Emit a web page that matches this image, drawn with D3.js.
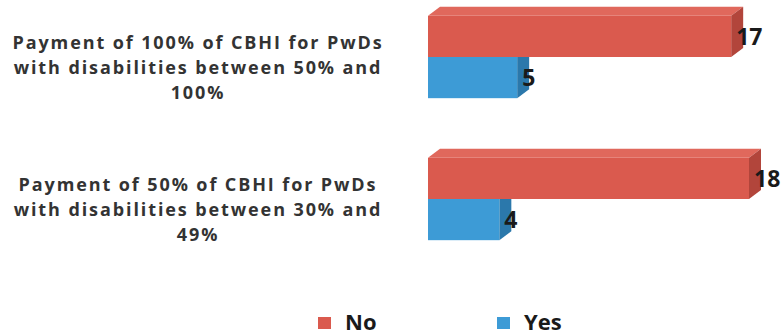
<!DOCTYPE html>
<html>
<head>
<meta charset="utf-8">
<script src="https://cdn.jsdelivr.net/npm/d3@7"></script>
<style>
  html, body { margin: 0; padding: 0; background: #fff; }
  svg { display: block; }
</style>
</head>
<body>
<svg id="chart" width="783" height="335"></svg>
<script>
// Survey answers per payment scheme
const categories = [
  ["Payment of 100% of CBHI for PwDs", "with disabilities between 50% and", "100%"],
  ["Payment of 50% of CBHI for PwDs", "with disabilities between 30% and", "49%"]
];
const seriesNames = ["No", "Yes"];
const noValues = [17, 18];
const yesValues = [5, 4];

const colors = {
  No:  { front: "#da5a4e", top: "#e0685c", side: "#b2453b" },
  Yes: { front: "#3d9bd6", top: "#55a9de", side: "#2b78ab" }
};

const svg = d3.select("#chart");
const font = "'Open Sans', 'DejaVu Sans', sans-serif";

const x = d3.scaleLinear().domain([0, 18]).range([428, 749]);
const y = d3.scaleBand().domain(d3.range(categories.length)).range([-14, 270])
  .paddingInner(0.42).paddingOuter(0.21);
const ySub = d3.scaleBand().domain(seriesNames).range([0, y.bandwidth()]);

const depthX = 12, depthY = 9;

const rows = [];
categories.forEach((c, i) => {
  rows.push({ cat: i, series: "No", value: noValues[i] });
  rows.push({ cat: i, series: "Yes", value: yesValues[i] });
});

// Lower ("Yes") bars first so the "No" bars above cover their top faces
const order = rows.slice().sort((a, b) =>
  (a.series === "Yes" ? 0 : 1) - (b.series === "Yes" ? 0 : 1));
const bars = svg.append("g");

order.forEach(d => {
  const x0 = x(0), x1 = x(d.value);
  const y0 = y(d.cat) + ySub(d.series);
  const y1 = y0 + ySub.bandwidth();
  const c = colors[d.series];
  const g = bars.append("g");
  // top face
  g.append("path")
    .attr("d", `M${x0},${y0} L${x0 + depthX},${y0 - depthY} L${x1 + depthX},${y0 - depthY} L${x1},${y0} Z`)
    .attr("fill", c.top);
  // side face
  g.append("path")
    .attr("d", `M${x1},${y0} L${x1 + depthX},${y0 - depthY} L${x1 + depthX},${y1 - depthY} L${x1},${y1} Z`)
    .attr("fill", c.side);
  // front face
  g.append("rect")
    .attr("x", x0).attr("y", y0)
    .attr("width", x1 - x0).attr("height", y1 - y0)
    .attr("fill", c.front);
});

// Value labels
svg.append("g").selectAll("text").data(rows).join("text")
  .attr("x", d => x(d.value) + 5)
  .attr("y", d => y(d.cat) + ySub(d.series) + ySub.bandwidth() / 2 + 2)
  .attr("dominant-baseline", "middle")
  .attr("font-family", font)
  .attr("font-weight", 700)
  .attr("font-size", 23)
  .attr("fill", "#1a1a1a")
  .text(d => d.value);

// Category labels
const labels = svg.append("g");
categories.forEach((lines, i) => {
  const cy = y(i) + y.bandwidth() / 2 + 12;
  lines.forEach((line, j) => {
    labels.append("text")
      .attr("x", 198)
      .attr("y", cy + (j - 1) * 25)
      .attr("text-anchor", "middle")
      .attr("dominant-baseline", "middle")
      .attr("font-family", font)
      .attr("font-weight", 700)
      .attr("font-size", 18)
      .attr("letter-spacing", 1.9)
      .attr("fill", "#333")
      .text(line);
  });
});

// Legend
const legendX = d3.scalePoint().domain(seriesNames).range([318, 497]);
const legend = svg.append("g").selectAll("g").data(seriesNames).join("g")
  .attr("transform", d => `translate(${legendX(d)},317)`);
legend.append("rect")
  .attr("width", 13).attr("height", 12)
  .attr("fill", d => colors[d].front);
legend.append("text")
  .attr("x", 27).attr("y", 7)
  .attr("dominant-baseline", "middle")
  .attr("font-family", font)
  .attr("font-weight", 700)
  .attr("font-size", 22)
  .attr("fill", "#1a1a1a")
  .text(d => d);
</script>
</body>
</html>
